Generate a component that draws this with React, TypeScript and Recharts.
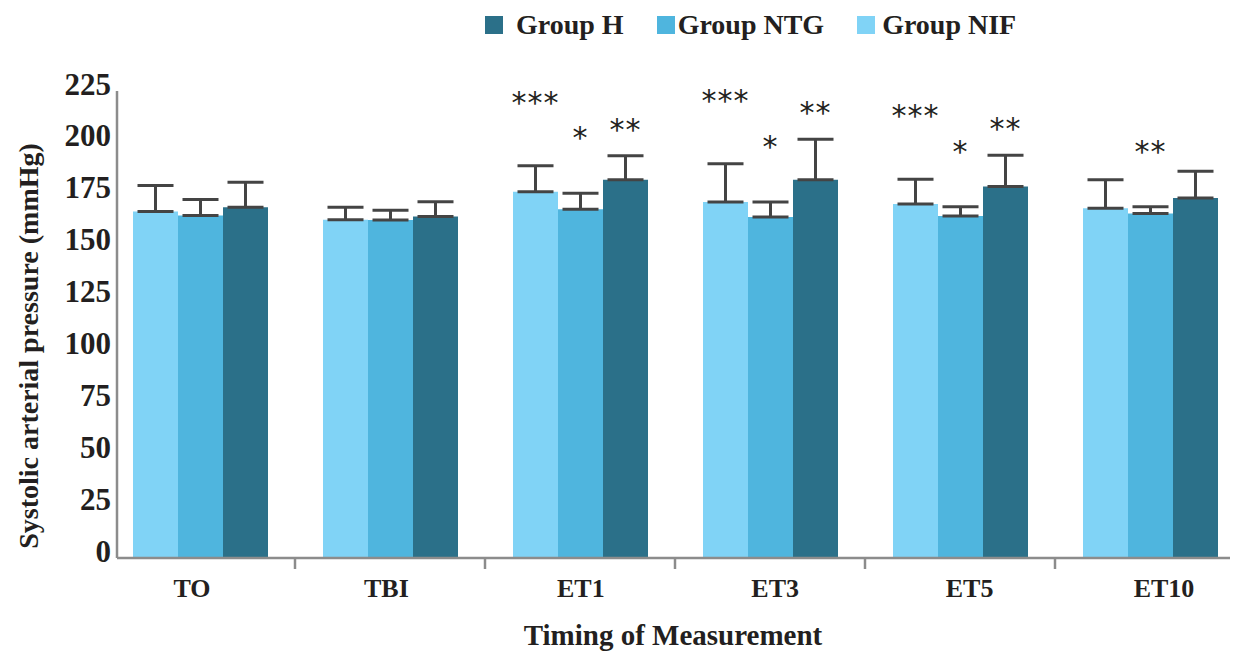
import { BarChart, Bar, XAxis, YAxis, ErrorBar, LabelList, Legend } from 'recharts';

// Systolic arterial pressure by timing of measurement
const categories = ['TO', 'TBI', 'ET1', 'ET3', 'ET5', 'ET10'];

const nifValues = [167, 163, 176.5, 171.5, 170.5, 168.5];
const ntgValues = [165, 162.8, 168, 164.3, 164.8, 166];
const hValues = [169, 164.5, 182.3, 182.3, 179, 173.5];

const nifErr = [12.5, 6, 12.5, 18.5, 12, 13.7];
const ntgErr = [7.7, 4.8, 7.7, 7.2, 4.4, 3.2];
const hErr = [12, 7.2, 11.5, 19.4, 15, 12.8];

const nifSig = ['', '', '***', '***', '***', ''];
const ntgSig = ['', '', '*', '*', '*', '**'];
const hSig = ['', '', '**', '**', '**', ''];

const yTicks = [0, 25, 50, 75, 100, 125, 150, 175, 200, 225];

const COLORS = { nif: '#80D3F6', ntg: '#4FB5DE', h: '#2B7089' };
const TEXT = '#231f20';
const AXIS = '#8c8c8c';
const SERIF = '"Liberation Serif", "Times New Roman", serif';

const data = categories.map((name, i) => ({
    name,
    nif: nifValues[i],
    ntg: ntgValues[i],
    h: hValues[i],
    nifErr: [0, nifErr[i]],
    ntgErr: [0, ntgErr[i]],
    hErr: [0, hErr[i]],
    nifSig: nifSig[i],
    ntgSig: ntgSig[i],
    hSig: hSig[i],
}));

const legendItems = [
    { label: 'Group H', color: COLORS.h, gap: 13 },
    { label: 'Group NTG', color: COLORS.ntg, gap: 3 },
    { label: 'Group NIF', color: COLORS.nif, gap: 7 },
];

// stars sit above the error cap; lift = px between cap and star centre
const starLabel = (errs: number[], vals: number[], lift: number) => (props: any) => {
    const vb = props.viewBox ?? props;
    const { value, index } = props;
    if (!value) return null;
    const pxPerUnit = vb.height / vals[index];
    const cy = vb.y - errs[index] * pxPerUnit - lift;
    return (
        <text
            key={`star-${index}`}
            x={vb.x + vb.width / 2}
            y={cy + 17}
            textAnchor="middle"
            fontFamily='"DejaVu Sans", sans-serif'
            fontSize={30}
            letterSpacing={1}
            fill={TEXT}
        >
            {value}
        </text>
    );
};

function XTick(props: any) {
    const { x, y, payload } = props;
    const half = payload.offset ?? 95;
    const isLast = payload.index === categories.length - 1;
    // labels drift slightly right of the bar groups across the axis
    const shift = -8 + payload.index * 4.4;
    return (
        <g>
            {!isLast && (
                <line x1={x + half} x2={x + half} y1={y - 8} y2={y + 3} stroke={AXIS} strokeWidth={2.5} />
            )}
            <text x={x + shift} y={y + 31} textAnchor="middle" fontFamily={SERIF} fontWeight="bold" fontSize={26} fill={TEXT}>
                {payload.value}
            </text>
        </g>
    );
}

function YTick(props: any) {
    const { x, y, payload } = props;
    return (
        <text x={x + 2} y={y - 7} textAnchor="end" dominantBaseline="central" fontFamily={SERIF} fontWeight="bold" fontSize={31} fill={TEXT}>
            {payload.value}
        </text>
    );
}

function LegendRow() {
    return (
        <div style={{ display: 'flex', alignItems: 'center', height: 50, paddingLeft: 485, fontFamily: SERIF }}>
            {legendItems.map((item) => (
                <div key={item.label} style={{ display: 'flex', alignItems: 'center', marginRight: 33 }}>
                    <span style={{ width: 18, height: 18, background: item.color, marginRight: item.gap }} />
                    <span style={{ fontSize: 28, fontWeight: 'bold', color: TEXT }}>{item.label}</span>
                </div>
            ))}
        </div>
    );
}

export default function App() {
    return (
        <div style={{ position: 'absolute', left: 0, top: 0, background: '#fff' }}>
            <BarChart
                width={1241}
                height={652}
                data={data}
                barGap={0}
                margin={{ top: 41, right: 11, bottom: 34, left: 47 }}
            >
                <Legend verticalAlign="top" wrapperStyle={{ top: 0, left: 0, width: 1241 }} content={() => <LegendRow />} />
                <XAxis
                    dataKey="name"
                    height={60}
                    padding={{ left: -12, right: -15 }}
                    axisLine={{ stroke: AXIS, strokeWidth: 2.5 }}
                    tickLine={false}
                    tick={<XTick />}
                    interval={0}
                    label={{
                        content: () => (
                            <text x={673} y={645} textAnchor="middle" fontFamily={SERIF} fontWeight="bold" fontSize={29} fill={TEXT}>
                                Timing of Measurement
                            </text>
                        ),
                    }}
                />
                <YAxis
                    width={70}
                    domain={[0, 225]}
                    ticks={yTicks}
                    interval={0}
                    axisLine={{ stroke: AXIS, strokeWidth: 2.5 }}
                    tickLine={false}
                    tick={<YTick />}
                    label={{
                        content: () => (
                            <text
                                x={28}
                                y={346}
                                transform="rotate(-90 28 346)"
                                textAnchor="middle"
                                dominantBaseline="central"
                                fontFamily={SERIF}
                                fontWeight="bold"
                                fontSize={28}
                                fill={TEXT}
                            >
                                Systolic arterial pressure (mmHg)
                            </text>
                        ),
                    }}
                />
                <Bar dataKey="nif" name="Group NIF" fill={COLORS.nif} barSize={45} isAnimationActive={false}>
                    <ErrorBar dataKey={() => 0} width={40} stroke="#333" strokeWidth={2} direction="y" />
                    <ErrorBar dataKey="nifErr" width={18} stroke="#444" strokeWidth={3} direction="y" />
                    <LabelList dataKey="nifSig" content={starLabel(nifErr, nifValues, 70)} />
                </Bar>
                <Bar dataKey="ntg" name="Group NTG" fill={COLORS.ntg} barSize={45} isAnimationActive={false}>
                    <ErrorBar dataKey={() => 0} width={40} stroke="#333" strokeWidth={2} direction="y" />
                    <ErrorBar dataKey="ntgErr" width={18} stroke="#444" strokeWidth={3} direction="y" />
                    <LabelList dataKey="ntgSig" content={starLabel(ntgErr, ntgValues, 62)} />
                </Bar>
                <Bar dataKey="h" name="Group H" fill={COLORS.h} barSize={45} isAnimationActive={false}>
                    <ErrorBar dataKey={() => 0} width={40} stroke="#333" strokeWidth={2} direction="y" />
                    <ErrorBar dataKey="hErr" width={18} stroke="#444" strokeWidth={3} direction="y" />
                    <LabelList dataKey="hSig" content={starLabel(hErr, hValues, 33)} />
                </Bar>
            </BarChart>
        </div>
    );
}
